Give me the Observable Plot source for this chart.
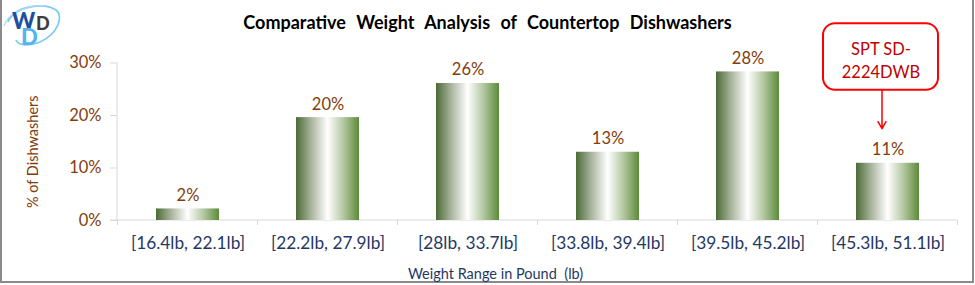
<!DOCTYPE html>
<html>
<head>
<meta charset="utf-8">
<script src="https://cdn.jsdelivr.net/npm/d3@7"></script>
<script src="https://cdn.jsdelivr.net/npm/@observablehq/plot@0.6"></script>
<style>
  html, body { margin: 0; padding: 0; background: #fff; }
  #wrap { position: relative; width: 975px; height: 285px; overflow: hidden; font-family: Lato, "Open Sans", sans-serif; }
  #border { position: absolute; left: 0; top: -2px; width: 974px; height: 285px; box-sizing: border-box; border: 2px solid #8a8a8a; pointer-events: none; }
  #title { position: absolute; left: 0; width: 975px; top: 11px; text-align: center; font-weight: bold; font-size: 18px; word-spacing: 6px; color: #000; }
  #logo { position: absolute; left: 0; top: 0; }
  #chart { position: absolute; left: 0; top: 0; }
</style>
</head>
<body>
<div id="wrap">
  <div id="border"></div>
  <div id="chart"></div>
  <div id="title"></div>
  <svg id="logo" width="70" height="52" viewBox="0 0 70 52">
    <path d="M8,22 C14,6 44,2 56,10 C64,16 58,34 40,42 C30,46 18,46 16,40" fill="none" stroke="#7ccbf2" stroke-width="1.8"/>
    <path d="M4,26 C8,12 30,4 46,6" fill="none" stroke="#a9dcf6" stroke-width="1.2"/>
    <text x="12" y="29" font-family="Lato" font-weight="900" font-size="22" fill="#1d4f9e">W</text>
    <text x="36" y="30" font-family="Lato" font-weight="900" font-size="18" fill="#3d3d3d">D</text>
    <text x="21" y="45" font-family="Lato" font-weight="900" font-size="22" fill="#4fb6ee">D</text>
  </svg>
</div>
<script>
// ---- data ----
const titleText = "Comparative  Weight  Analysis  of  Countertop  Dishwashers";
const categories = ["[16.4lb, 22.1lb]", "[22.2lb, 27.9lb]", "[28lb, 33.7lb]", "[33.8lb, 39.4lb]", "[39.5lb, 45.2lb]", "[45.3lb, 51.1lb]"];
const shares = [2.2, 19.6, 26.1, 13.0, 28.3, 10.9];
const yTicks = [0, 10, 20, 30];
const xLabel = "Weight Range in Pound  (lb)";
const yLabel = "% of Dishwashers";
const annotationCategory = "[45.3lb, 51.1lb]";
const annotationText = "SPT SD-\n2224DWB";

const data = categories.map((c, i) => ({category: c, share: shares[i]}));
const annotated = data.filter(d => d.category === annotationCategory);

document.getElementById("title").textContent = titleText;

const fontSize = 16.5;
const xFontSize = 17.3;

const axisLines = (index, scales, values, dims) => {
  const {width, height, marginTop, marginLeft, marginRight, marginBottom} = dims;
  const g = d3.create("svg:g").attr("stroke", "#d9d9d9").attr("fill", "none");
  const y0 = height - marginBottom;
  const x = scales.x;
  const bw = typeof x.bandwidth === "function" ? x.bandwidth() : (x.bandwidth || 0);
  const centers = categories.map(c => x(c) + bw / 2);
  const step = centers.length > 1 ? centers[1] - centers[0] : (width - marginLeft - marginRight);
  const bounds = [centers[0] - step / 2, ...centers.map(c => c + step / 2)];
  g.append("line").attr("x1", marginLeft - 7).attr("x2", width - marginRight).attr("y1", y0).attr("y2", y0);
  g.append("line").attr("x1", marginLeft).attr("x2", marginLeft).attr("y1", marginTop).attr("y2", y0);
  for (const b of bounds) g.append("line").attr("x1", b).attr("x2", b).attr("y1", y0).attr("y2", y0 + 5);
  return g.node();
};

const plot = Plot.plot({
  width: 975,
  height: 285,
  marginTop: 62.5,
  marginBottom: 65,
  marginLeft: 117,
  marginRight: 18,
  style: {fontFamily: "Lato, 'Open Sans', sans-serif", fontSize: fontSize + "px", background: "transparent", overflow: "visible"},
  x: {domain: categories, paddingInner: 0.55, paddingOuter: 0.275, label: null},
  y: {domain: [0, 30], label: null},
  marks: [
    axisLines,
    Plot.axisY({ticks: yTicks, tickFormat: d => d + "%", tickSize: 7, tickPadding: 9, stroke: "#d9d9d9", fill: "#843c0c", fontSize: fontSize, label: null}),
    Plot.axisX({tickSize: 0, tickPadding: 16, fill: "#1f3864", fontSize: xFontSize, label: null}),
    Plot.barY(data, {x: "category", y: "share", fill: "url(#barGrad)"}),
    Plot.text(data, {x: "category", y: "share", text: d => Math.round(d.share) + "%", lineAnchor: "bottom", dy: -8, fill: "#843c0c", fontSize: fontSize}),
    Plot.text([xLabel], {frameAnchor: "bottom", text: d => d, dy: 54, dx: -42, fill: "#1f3864", fontSize: 14.5, lineAnchor: "middle"}),
    Plot.text([yLabel], {frameAnchor: "left", textAnchor: "middle", text: d => d, rotate: -90, dx: -84, dy: 10, fill: "#843c0c", fontSize: 14.5}),
    // annotation
    Plot.barY(annotated, {x: "category", y1: d => d.share + 13.9, y2: d => d.share + 26.6, fill: "white", stroke: "#ff0000", strokeWidth: 2, rx: 12, insetLeft: -33, insetRight: -19}),
    Plot.text(annotated, {x: "category", y: d => d.share + 19.9, text: () => annotationText, dx: -7, fill: "#c00000", fontSize: fontSize, lineHeight: 1.45}),
    Plot.arrow(annotated, {x1: "category", x2: "category", y1: d => d.share + 13.9, y2: d => d.share + 6.6, dx: -6, stroke: "#ff0000", strokeWidth: 1.5, headLength: 8, bend: 0})
  ]
});

const svg = d3.select(plot);
const defs = svg.insert("defs", ":first-child");
const grad = defs.append("linearGradient").attr("id", "barGrad").attr("x1", "0").attr("x2", "1").attr("y1", "0").attr("y2", "0");
grad.append("stop").attr("offset", "0%").attr("stop-color", "#4a6a35");
grad.append("stop").attr("offset", "22%").attr("stop-color", "#a2ae95");
grad.append("stop").attr("offset", "50%").attr("stop-color", "#ffffff");
grad.append("stop").attr("offset", "75%").attr("stop-color", "#b4c8a2");
grad.append("stop").attr("offset", "100%").attr("stop-color", "#5c8b3a");

document.getElementById("chart").appendChild(plot);
</script>
</body>
</html>
